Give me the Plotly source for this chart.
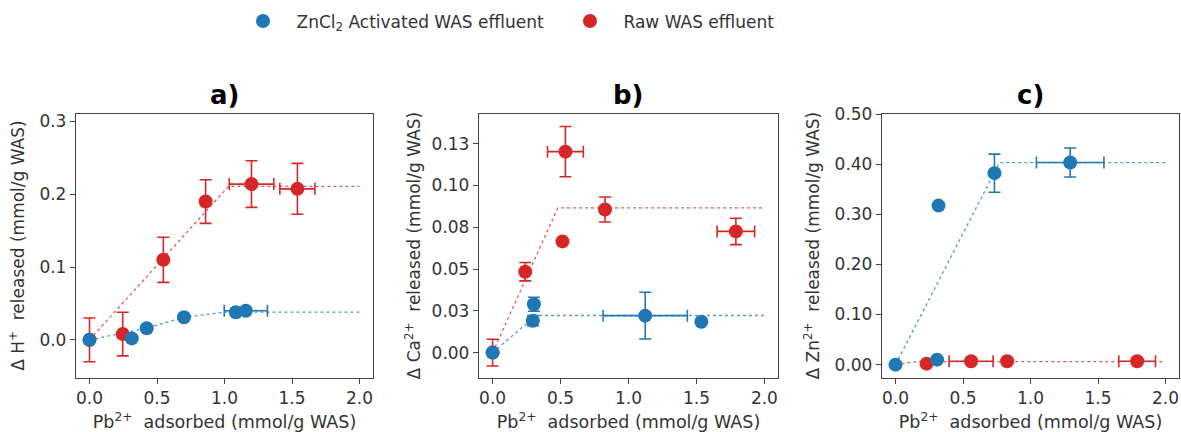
import plotly.graph_objects as go

W, H = 1181, 432
BLUE = "#1f77b4"
RED = "#d62728"
BLUE_L = "rgba(31,119,180,0.75)"
RED_L = "rgba(214,39,40,0.75)"

# ---------------- Panel a) : H+ released ----------------
a_blue_x = [0.0, 0.313, 0.424, 0.70, 1.084, 1.158]
a_blue_y = [0.0, 0.002, 0.016, 0.031, 0.038, 0.040]
a_blue_xerr = [0, 0, 0, 0, 0.02, 0.16]
a_blue_yerr = [0, 0, 0, 0, 0, 0]
a_red_x = [0.0, 0.246, 0.547, 0.86, 1.20, 1.54]
a_red_y = [0.0, 0.008, 0.110, 0.190, 0.214, 0.2075]
a_red_xerr = [0, 0, 0, 0, 0.165, 0.13]
a_red_yerr = [0.030, 0.030, 0.031, 0.030, 0.032, 0.035]
a_blue_fit_x = [0.0, 0.42, 0.70, 1.0, 2.0]
a_blue_fit_y = [0.0, 0.016, 0.031, 0.038, 0.038]
a_red_fit_x = [0.0, 1.03, 2.0]
a_red_fit_y = [0.0, 0.211, 0.211]

# ---------------- Panel b) : Ca2+ released ----------------
b_blue_x = [0.0, 0.304, 0.296, 1.123, 1.536]
b_blue_y = [0.0, 0.0289, 0.0191, 0.0221, 0.0185]
b_blue_xerr = [0, 0, 0, 0.31, 0]
b_blue_yerr = [0, 0.0042, 0.003, 0.014, 0]
b_red_x = [0.0, 0.24, 0.536, 0.514, 0.827, 1.79]
b_red_y = [0.0, 0.0484, 0.1202, 0.0665, 0.0856, 0.0725]
b_red_xerr = [0, 0, 0.132, 0, 0, 0.138]
b_red_yerr = [0.008, 0.0055, 0.015, 0, 0.0075, 0.0079]
b_blue_fit_x = [0.0, 0.321, 2.0]
b_blue_fit_y = [0.0, 0.0222, 0.0222]
b_red_fit_x = [0.0, 0.48, 2.0]
b_red_fit_y = [0.0, 0.0866, 0.0866]

# ---------------- Panel c) : Zn2+ released ----------------
c_blue_x = [0.0, 0.3185, 0.308, 0.733, 1.294]
c_blue_y = [0.0, 0.3173, 0.010, 0.382, 0.4033]
c_blue_xerr = [0, 0, 0, 0, 0.25]
c_blue_yerr = [0, 0, 0, 0.038, 0.029]
c_red_x = [0.23, 0.56, 0.827, 1.79]
c_red_y = [0.002, 0.0067, 0.0067, 0.0067]
c_red_xerr = [0, 0.163, 0, 0.136]
c_red_yerr = [0, 0, 0, 0]
c_blue_fit_x = [0.0, 0.77, 2.0]
c_blue_fit_y = [0.0, 0.403, 0.403]
c_red_fit_x = [0.0, 0.15, 2.0]
c_red_fit_y = [0.0, 0.006, 0.006]

panel_titles = ["a)", "b)", "c)"]
y_titles = ["Δ H<sup>+</sup>  released (mmol/g WAS)",
            "Δ Ca<sup>2+</sup>  released (mmol/g WAS)",
            "Δ Zn<sup>2+</sup>  released (mmol/g WAS)"]
x_title = "Pb<sup>2+</sup>  adsorbed (mmol/g WAS)"
b_tickvals = [0.0, 0.025, 0.05, 0.075, 0.10, 0.125]
b_ticktext = ["0.00", "0.03", "0.05", "0.08", "0.10", "0.13"]
legend_names = ["\u2002ZnCl<sub>2</sub> Activated WAS effluent", "\u2002Raw WAS effluent"]

panels = [
    (a_blue_x, a_blue_y, a_blue_xerr, a_blue_yerr, a_red_x, a_red_y, a_red_xerr, a_red_yerr,
     a_blue_fit_x, a_blue_fit_y, a_red_fit_x, a_red_fit_y),
    (b_blue_x, b_blue_y, b_blue_xerr, b_blue_yerr, b_red_x, b_red_y, b_red_xerr, b_red_yerr,
     b_blue_fit_x, b_blue_fit_y, b_red_fit_x, b_red_fit_y),
    (c_blue_x, c_blue_y, c_blue_xerr, c_blue_yerr, c_red_x, c_red_y, c_red_xerr, c_red_yerr,
     c_blue_fit_x, c_blue_fit_y, c_red_fit_x, c_red_fit_y),
]

fig = go.Figure()
for i, p in enumerate(panels):
    (bx, by, bxe, bye, rx, ry, rxe, rye, bfx, bfy, rfx, rfy) = p
    xa = "x" if i == 0 else f"x{i+1}"
    ya = "y" if i == 0 else f"y{i+1}"
    fig.add_trace(go.Scatter(x=rfx, y=rfy, mode="lines", xaxis=xa, yaxis=ya,
                             line=dict(color=RED_L, width=1.3, dash="dot"),
                             showlegend=False, hoverinfo="skip"))
    fig.add_trace(go.Scatter(x=bfx, y=bfy, mode="lines", xaxis=xa, yaxis=ya,
                             line=dict(color=BLUE_L, width=1.3, dash="dot"),
                             showlegend=False, hoverinfo="skip"))
    fig.add_trace(go.Scatter(x=rx, y=ry, mode="markers", xaxis=xa, yaxis=ya,
                             name=legend_names[1], legendgroup="raw", legendrank=2,
                             showlegend=(i == 0),
                             marker=dict(color=RED, size=14, line=dict(width=0)),
                             error_x=dict(type="data", array=rxe, color=RED, thickness=1.6, width=6),
                             error_y=dict(type="data", array=rye, color=RED, thickness=1.6, width=6)))
    fig.add_trace(go.Scatter(x=bx, y=by, mode="markers", xaxis=xa, yaxis=ya,
                             name=legend_names[0], legendgroup="zn", legendrank=1,
                             showlegend=(i == 0),
                             marker=dict(color=BLUE, size=14, line=dict(width=0)),
                             error_x=dict(type="data", array=bxe, color=BLUE, thickness=1.6, width=6),
                             error_y=dict(type="data", array=bye, color=BLUE, thickness=1.6, width=6)))

domains_x = [[76 / W, 373 / W], [479 / W, 778 / W], [882 / W, 1179 / W]]
domain_y = [1 - 377.7 / H, 1 - 113.5 / H]
y_ranges = [[-0.052, 0.311], [-0.015, 0.143], [-0.026, 0.501]]

TXT = "#333333"
LINE = "#444444"
FS = 17
axis_common = dict(showline=True, mirror=True, linecolor=LINE, linewidth=1.3,
                   ticks="outside", ticklen=5, tickwidth=1.2, tickcolor=LINE,
                   showgrid=False, zeroline=False, automargin=False,
                   tickfont=dict(family="DejaVu Sans", size=FS, color=TXT))

layout = dict(width=W, height=H, margin=dict(l=0, r=0, t=0, b=0),
              paper_bgcolor="white", plot_bgcolor="white",
              font=dict(family="DejaVu Sans", color=TXT),
              legend=dict(orientation="h", x=238 / W, y=1 - 3.5 / H, xanchor="left", yanchor="top",
                          font=dict(family="DejaVu Sans", size=17, color=TXT),
                          bgcolor="rgba(0,0,0,0)", itemwidth=40, entrywidth=272,
                          traceorder="normal"))
for i in range(3):
    sx = "" if i == 0 else str(i + 1)
    xa = dict(axis_common, domain=domains_x[i], range=[-0.1, 2.1],
              tickvals=[0.0, 0.5, 1.0, 1.5, 2.0], tickformat=".1f",
              anchor="y" + sx,
              title=dict(text=x_title, font=dict(family="DejaVu Sans", size=17.5, color=TXT), standoff=8))
    ya = dict(axis_common, domain=domain_y, range=y_ranges[i], anchor="x" + sx,
              title=dict(text=y_titles[i], font=dict(family="DejaVu Sans", size=FS, color=TXT),
                         standoff=(10 if i != 1 else 6)))
    if i == 0:
        ya.update(tickvals=[0.0, 0.1, 0.2, 0.3], tickformat=".1f")
    elif i == 1:
        ya.update(tickvals=b_tickvals, ticktext=b_ticktext)
    else:
        ya.update(tickvals=[0.0, 0.1, 0.2, 0.3, 0.4, 0.5], tickformat=".2f")
    layout["xaxis" + sx] = xa
    layout["yaxis" + sx] = ya

annotations = []
for i in range(3):
    cx = (domains_x[i][0] + domains_x[i][1]) / 2
    annotations.append(dict(text="<b>" + panel_titles[i] + "</b>", x=cx, y=1 - 95 / H,
                            xref="paper", yref="paper", xanchor="center", yanchor="middle",
                            showarrow=False, font=dict(family="DejaVu Sans", size=26, color="black")))
layout["annotations"] = annotations

fig.update_layout(**layout)
fig.write_html("out.html", config={"displayModeBar": False},
               post_script="document.body.style.margin='0px';document.body.style.overflow='hidden';")
